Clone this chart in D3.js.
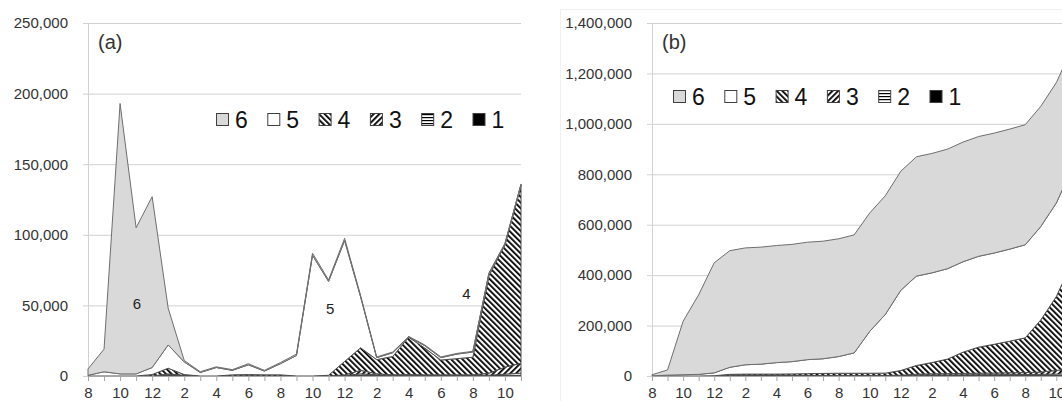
<!DOCTYPE html>
<html>
<head>
<meta charset="utf-8">
<script src="https://cdn.jsdelivr.net/npm/d3@7"></script>
<style>
  html, body { margin: 0; padding: 0; background: #fff; overflow: hidden; }
  svg { display: block; font-family: "Liberation Sans", Arial, sans-serif; }
</style>
</head>
<body>
<svg id="chart" width="1062" height="401"></svg>
<script>
// Month of each observation (Aug .. Nov, over three years)
const months = [8, 9, 10, 11, 12, 1, 2, 3, 4, 5, 6, 7, 8, 9, 10, 11, 12, 1, 2, 3, 4, 5, 6, 7, 8, 9, 10, 11];
const seriesNames = ["1", "2", "3", "4", "5", "6"];

// Monthly amounts per class
const monthly1 = [0, 0, 0, 0, 0, 300, 200, 0, 0, 0, 200, 0, 0, 0, 0, 0, 0, 500, 300, 0, 0, 0, 0, 0, 0, 0, 300, 500];
const monthly2 = [0, 0, 0, 0, 0, 500, 300, 0, 0, 0, 0, 0, 0, 0, 0, 0, 300, 1000, 500, 300, 300, 300, 300, 300, 300, 500, 1000, 1500];
const monthly3 = [0, 0, 0, 0, 0, 700, 0, 0, 0, 0, 0, 0, 0, 0, 0, 0, 500, 2500, 800, 500, 700, 500, 500, 500, 500, 1500, 5000, 7000];
const monthly4 = [0, 0, 0, 0, 1000, 4000, 500, 0, 0, 800, 800, 800, 800, 0, 0, 500, 9500, 16000, 10000, 13000, 26500, 19000, 10500, 11500, 12500, 69000, 86500, 126000];
const monthly5 = [500, 3000, 1500, 1500, 5000, 16500, 9000, 2500, 6000, 3200, 6900, 2700, 7900, 14500, 85500, 66500, 85700, 36000, 1400, 2700, 200, 1700, 1700, 3200, 3700, 1500, 700, 500];
const monthly6 = [4500, 16000, 191500, 103500, 121000, 26000, 1000, 500, 500, 500, 800, 500, 800, 1000, 1500, 1000, 1500, 1000, 500, 500, 300, 500, 500, 500, 500, 500, 500, 500];

// Running totals per class
const running1 = [0, 0, 0, 0, 0, 300, 500, 500, 500, 500, 700, 700, 700, 700, 700, 700, 700, 1200, 1500, 1500, 1500, 1500, 1500, 1500, 1500, 1500, 1800, 2300];
const running2 = [0, 0, 0, 0, 0, 500, 800, 800, 800, 800, 800, 800, 800, 800, 800, 800, 1100, 2100, 2600, 2900, 3200, 3500, 3800, 4100, 4400, 4900, 5900, 7400];
const running3 = [0, 0, 0, 0, 0, 700, 700, 700, 700, 700, 700, 700, 700, 700, 700, 700, 1200, 3700, 4500, 5000, 5700, 6200, 6700, 7200, 7700, 9200, 14200, 21200];
const running4 = [0, 0, 0, 0, 1000, 5000, 5500, 5500, 5500, 6300, 7100, 7900, 8700, 8700, 8700, 9200, 18700, 34700, 44700, 57700, 84200, 103200, 113700, 125200, 137700, 206700, 293200, 419200];
const running5 = [500, 3500, 5000, 6500, 11500, 28000, 37000, 39500, 45500, 48700, 55600, 58300, 66200, 80700, 166200, 232700, 318400, 354400, 355800, 358500, 358700, 360400, 362100, 365300, 369000, 370500, 371200, 371700];
const running6 = [4500, 20500, 212000, 315500, 436500, 462500, 463500, 464000, 464500, 465000, 465800, 466300, 467100, 468100, 469600, 470600, 472100, 473100, 473600, 474100, 474400, 474900, 475400, 475900, 476400, 476900, 477400, 477900];

// Axis tick values
const ticksA = [0, 50000, 100000, 150000, 200000, 250000];
const ticksB = [0, 200000, 400000, 600000, 800000, 1000000, 1200000, 1400000];

const svg = d3.select("#chart");
const defs = svg.append("defs");

// Fill patterns: diagonal hatches and horizontal stripes
function diagonal(id, angle) {
  const p = defs.append("pattern")
    .attr("id", id)
    .attr("patternUnits", "userSpaceOnUse")
    .attr("width", 4).attr("height", 4)
    .attr("patternTransform", `rotate(${angle})`);
  p.append("rect").attr("width", 4).attr("height", 4).attr("fill", "#fff");
  p.append("rect").attr("width", 1.8).attr("height", 4).attr("fill", "#000");
}
diagonal("fill4", -45);
diagonal("fill3", 45);
const stripes = defs.append("pattern")
  .attr("id", "fill2")
  .attr("patternUnits", "userSpaceOnUse")
  .attr("width", 4).attr("height", 3);
stripes.append("rect").attr("width", 4).attr("height", 3).attr("fill", "#fff");
stripes.append("rect").attr("width", 4).attr("height", 1.2).attr("fill", "#000");

const fills = ["#000", "url(#fill2)", "url(#fill3)", "url(#fill4)", "#fff", "#d9d9d9"];
const keys = seriesNames.map(s => "s" + s);

const TOP = 23, BOTTOM = 376;
const gridColor = "#d2d2d2";
const textColor = "#333";

function panel(cfg) {
  const g = svg.append("g");
  const x = d3.scalePoint().domain(d3.range(months.length)).range([cfg.left, cfg.right]);
  // position between categories, for labels placed inside the plot
  const xAt = t => x(Math.floor(t)) + (t - Math.floor(t)) * x.step();
  const y = d3.scaleLinear().domain([0, cfg.ticks[cfg.ticks.length - 1]]).range([BOTTOM, TOP]);

  // value axis with gridlines
  const gy = g.append("g")
    .attr("transform", `translate(${cfg.left},0)`)
    .call(d3.axisLeft(y).tickValues(cfg.ticks).tickFormat(d3.format(","))
      .tickSize(5).tickSizeOuter(0).tickPadding(15));
  gy.select(".domain").attr("stroke", gridColor);
  gy.selectAll(".tick line").attr("stroke", gridColor);
  gy.selectAll(".tick").filter(d => d > 0).append("line")
    .attr("x2", cfg.right - cfg.left).attr("stroke", gridColor);
  gy.selectAll(".tick text").attr("fill", textColor).style("font-size", "15px");

  // stacked areas
  const table = months.map((m, i) => {
    const row = { i };
    keys.forEach((k, j) => { row[k] = cfg.series[j][i]; });
    return row;
  });
  const layers = d3.stack().keys(keys)(table);
  const area = d3.area()
    .x(d => x(d.data.i))
    .y0(d => y(d[0]))
    .y1(d => y(d[1]));
  g.append("g").selectAll("path").data(layers).join("path")
    .attr("d", area)
    .attr("fill", (d, k) => fills[k])
    .attr("stroke", (d, k) => k === 5 ? "#6e6e6e" : "#4d4d4d")
    .attr("stroke-width", 1)
    .attr("stroke-linejoin", "round");

  // category axis
  const gx = g.append("g")
    .attr("transform", `translate(0,${BOTTOM})`)
    .call(d3.axisBottom(x).tickSize(5).tickSizeOuter(0).tickPadding(6)
      .tickFormat(i => i % 2 === 0 ? months[i] : ""));
  gx.select(".domain").attr("stroke", "#a6a6a6");
  gx.selectAll(".tick line").attr("stroke", "#a6a6a6");
  gx.selectAll(".tick text").attr("fill", textColor).style("font-size", "15px");

  // panel tag
  g.append("text").attr("x", cfg.left + 10).attr("y", 48.5)
    .attr("fill", textColor).style("font-size", "20px").text(cfg.tag);

  // legend, class 6 first
  const order = [5, 4, 3, 2, 1, 0];
  const lg = g.append("g");
  order.forEach((k, n) => {
    const lx = cfg.legendX + n * 51.3;
    lg.append("rect")
      .attr("x", lx + 0.5).attr("y", cfg.legendY - 6.5)
      .attr("width", 12).attr("height", 12)
      .attr("fill", fills[k]).attr("stroke", "#404040").attr("stroke-width", 1);
    lg.append("text")
      .attr("x", lx + 19).attr("y", cfg.legendY + 8.2)
      .attr("fill", "#111").style("font-size", "23px")
      .text(seriesNames[k]);
  });

  // in-plot class labels
  (cfg.notes || []).forEach(nt => {
    g.append("text").attr("x", xAt(nt.at)).attr("y", y(nt.value))
      .attr("text-anchor", "middle").attr("dy", "0.35em")
      .attr("fill", "#222").style("font-size", "15px").text(nt.text);
  });
  return g;
}

// left: monthly amounts
panel({
  left: 88, right: 521,
  ticks: ticksA,
  series: [monthly1, monthly2, monthly3, monthly4, monthly5, monthly6],
  tag: "(a)",
  legendX: 216, legendY: 120,
  notes: [
    { at: 3.05, value: 51000, text: "6" },
    { at: 15.1, value: 47500, text: "5" },
    { at: 23.6, value: 58500, text: "4" }
  ]
});

// faint frame of the right chart
svg.append("rect")
  .attr("x", 560.5).attr("y", 9.5).attr("width", 700).attr("height", 600)
  .attr("fill", "none").attr("stroke", "#f0f0f0");

// right: running totals
panel({
  left: 652, right: 1071.9,
  ticks: ticksB,
  series: [running1, running2, running3, running4, running5, running6],
  tag: "(b)",
  legendX: 673, legendY: 97
});
</script>
</body>
</html>
